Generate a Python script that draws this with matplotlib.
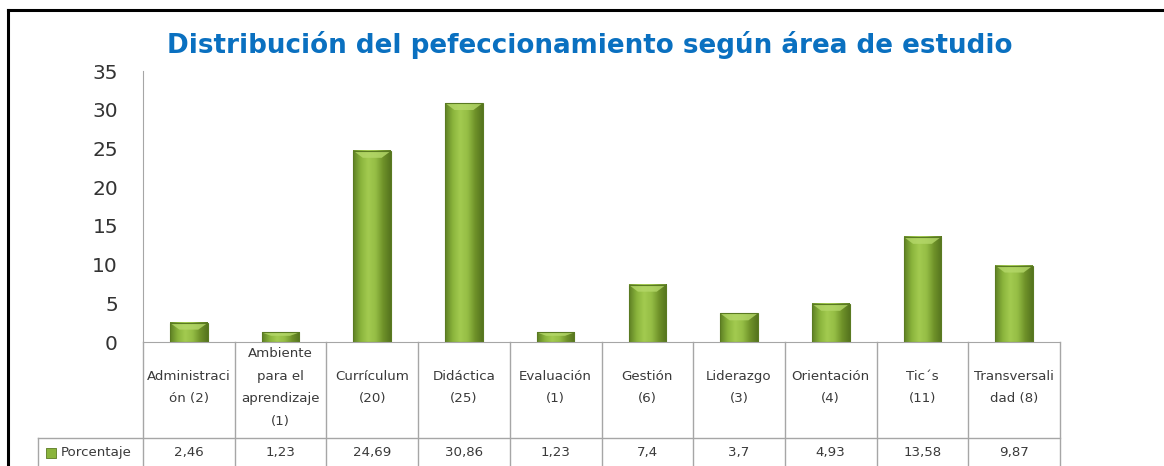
import numpy as np
import matplotlib
matplotlib.use("Agg")
import matplotlib.pyplot as plt
from matplotlib.lines import Line2D
from matplotlib.colors import LinearSegmentedColormap

# datos del gráfico
areas = ["Administraci\nón (2)", "Ambiente\npara el\naprendizaje\n(1)",
         "Currículum\n(20)", "Didáctica\n(25)", "Evaluación\n(1)",
         "Gestión\n(6)", "Liderazgo\n(3)", "Orientación\n(4)",
         "Tic´s\n(11)", "Transversali\ndad (8)"]
porcentaje = [2.46, 1.23, 24.69, 30.86, 1.23, 7.4, 3.7, 4.93, 13.58, 9.87]
serie = "Porcentaje"
yticks = [0, 5, 10, 15, 20, 25, 30, 35]

W, H = 1164, 466
fig = plt.figure(figsize=(W / 100, H / 100), dpi=100)
fig.patch.set_facecolor("white")

# ejes en coordenadas de pixel
x0, x1, y_top, y_bot = 143, 1060, 71, 342
ax = fig.add_axes([x0 / W, (H - y_bot) / H, (x1 - x0) / W, (y_bot - y_top) / H])

n = len(porcentaje)
x = np.arange(n)
ancho = 0.41
grid_col = "#a6a6a6"
txt_col = "#3a3a3a"

# barras con degradado horizontal
verde = LinearSegmentedColormap.from_list(
    "verde", ["#5f8124", "#8ab43c", "#a3cb50", "#95bd45", "#6f9229", "#55741e"])
grad = np.linspace(0, 1, 64).reshape(1, -1)
bars = ax.bar(x, porcentaje, width=ancho, color="none", edgecolor="#5a7a22",
              linewidth=0.8, zorder=3)
for b in bars:
    bx, bw, bh = b.get_x(), b.get_width(), b.get_height()
    ax.imshow(grad, cmap=verde, aspect="auto", extent=[bx, bx + bw, 0, bh],
              zorder=2, interpolation="bicubic")
    # bisel superior
    bev = min(bh * 0.35, 0.9)
    ax.fill([bx, bx + bw, bx + bw * 0.75, bx + bw * 0.25],
            [bh, bh, bh - bev, bh - bev], color="#b5d86a", alpha=0.8,
            zorder=2.5, lw=0)

ax.set_xlim(-0.5, n - 0.5)
ax.set_ylim(0, 35)
ax.set_yticks(yticks)
ax.set_xticks([])
ax.tick_params(axis="y", length=0, pad=18, labelsize=14.5, labelcolor="#333333")
for s in ["top", "right"]:
    ax.spines[s].set_visible(False)
ax.spines["left"].set_color(grid_col)
ax.spines["bottom"].set_color(grid_col)
ax.spines["left"].set_zorder(4)

# tabla de datos bajo el eje
tr = ax.get_xaxis_transform()
y_fila = -0.354
y_fin = -0.48
x_ley = (38 - x0) / ((x1 - x0) / n) - 0.5
for i in range(n + 1):
    ax.add_line(Line2D([i - 0.5, i - 0.5], [0, y_fin], transform=tr,
                       color=grid_col, lw=1, clip_on=False))
ax.add_line(Line2D([x_ley, n - 0.5], [y_fila, y_fila], transform=tr,
                   color=grid_col, lw=1, clip_on=False))
ax.add_line(Line2D([x_ley, x_ley], [y_fila, y_fin], transform=tr,
                   color=grid_col, lw=1, clip_on=False))

fs = 9.6
for i, (lab, v) in enumerate(zip(areas, porcentaje)):
    ax.text(i, -0.168, lab, transform=tr, ha="center", va="center",
            fontsize=fs, color=txt_col, linespacing=1.95)
    ax.text(i, -0.406, f"{v:g}".replace(".", ","), transform=tr,
            ha="center", va="center", fontsize=fs, color=txt_col)

# leyenda dentro de la tabla
ax.scatter([x_ley + 0.14], [-0.41], transform=tr, marker="s", s=60,
           color="#8ab43c", edgecolor="#5a7a22", linewidth=0.6, clip_on=False)
ax.text(x_ley + 0.25, -0.406, serie, transform=tr, ha="left", va="center",
        fontsize=fs, color=txt_col)

# título
fig.text(590 / W, 1 - 45 / H, "Distribución del pefeccionamiento según área de estudio",
         ha="center", va="center", fontsize=18.8, fontweight="bold",
         color="#0a70c0", family="DejaVu Sans")

# marco negro
fig.add_artist(Line2D([8 / W, 8 / W], [0, 1 - 10 / H], color="black", lw=2.2))
fig.add_artist(Line2D([8 / W, 1], [1 - 10 / H, 1 - 10 / H], color="black", lw=2.2))

fig.savefig("out.png", dpi=100)
